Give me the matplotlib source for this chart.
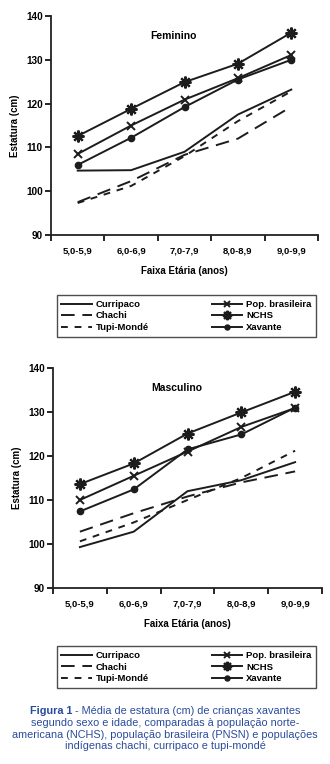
import matplotlib
matplotlib.use("Agg")
import matplotlib.pyplot as plt
import numpy as np
from matplotlib.lines import Line2D
from matplotlib.text import Annotation

plt.rcParams['font.family'] = ['Liberation Sans', 'DejaVu Sans']

categories = ["5,0-5,9", "6,0-6,9", "7,0-7,9", "8,0-8,9", "9,0-9,9"]
series_names = ["Curripaco", "Chachi", "Tupi-Mondé", "Pop. brasileira", "NCHS", "Xavante"]

fem_curripaco = [104.7, 104.8, 109.0, 117.5, 123.2]
fem_chachi = [97.5, 102.3, 108.3, 112.0, 119.3]
fem_tupi = [97.3, 101.2, 108.0, 116.0, 122.8]
fem_pop = [108.5, 115.0, 120.9, 125.8, 131.1]
fem_nchs = [112.6, 118.8, 124.9, 129.1, 136.2]
fem_xavante = [106.0, 112.2, 119.2, 125.5, 130.0]

mas_curripaco = [99.3, 102.8, 112.0, 114.5, 118.6]
mas_chachi = [102.8, 107.0, 110.8, 114.0, 116.5]
mas_tupi = [100.6, 104.9, 110.0, 115.0, 121.2]
mas_pop = [110.0, 115.5, 121.0, 126.6, 130.9]
mas_nchs = [113.6, 118.3, 125.1, 129.9, 134.6]
mas_xavante = [107.4, 112.4, 121.5, 124.9, 131.0]

yticks = [90, 100, 110, 120, 130, 140]

LC = "#1c1c1c"
styles = {
    "Curripaco": dict(ls="-", marker=None),
    "Chachi": dict(ls=(0, (7, 4)), marker=None),
    "Tupi-Mondé": dict(ls=(0, (3.5, 3.5)), marker=None),
    "Pop. brasileira": dict(ls="-", marker="x", ms=6, mew=1.4),
    "NCHS": dict(ls="-", marker=(8, 2, 0), ms=8.5, mew=1.6),
    "Xavante": dict(ls="-", marker="o", ms=4.5, mew=1),
}

fig = plt.figure(figsize=(3.30, 7.64), dpi=100)
fig.patch.set_facecolor("white")

def panel(rect, data, title, legend_rect):
    ax = fig.add_axes(rect)
    x = np.arange(len(categories))
    for name, vals in zip(series_names, data):
        st = styles[name]
        ax.plot(x, vals, color=LC, lw=1.4, linestyle=st["ls"], marker=st["marker"],
                ms=st.get("ms", 0), mew=st.get("mew", 1), mfc=LC, mec=LC)
    ax.set_xlim(-0.5, len(categories) - 0.5)
    ax.set_ylim(90, 140)
    ax.set_yticks(yticks)
    ax.set_yticklabels([str(v) for v in yticks], fontsize=7.2, fontweight="bold")
    ax.set_xticks(np.arange(len(categories) + 1) - 0.5)
    ax.set_xticklabels([])
    ax.set_xticks(x, minor=True)
    ax.set_xticklabels(categories, minor=True, fontsize=6.8, fontweight="bold")
    ax.tick_params(axis="x", which="minor", length=0, pad=8)
    ax.tick_params(axis="x", which="major", length=4, width=1.2, direction="out")
    ax.tick_params(axis="y", length=4, width=1.2, direction="out", pad=2)
    for s in ["top", "right"]:
        ax.spines[s].set_visible(False)
    for s in ["left", "bottom"]:
        ax.spines[s].set_linewidth(1.3)
        ax.spines[s].set_color("#222222")
    ax.set_ylabel("Estatura (cm)", fontsize=7, fontweight="bold", labelpad=4)
    ax.set_xlabel("Faixa Etária (anos)", fontsize=7, fontweight="bold", labelpad=8)
    ax.text(0.46, 0.91, title, transform=ax.transAxes, fontsize=7.5, fontweight="bold",
            ha="center", va="center")
    handles = []
    for name in series_names:
        st = styles[name]
        handles.append(Line2D([], [], color=LC, lw=1.4, linestyle=st["ls"], marker=st["marker"],
                              ms=st.get("ms", 0) * 0.8, mew=st.get("mew", 1), mfc=LC, mec=LC))
    leg = fig.legend(handles, series_names, loc="center", bbox_to_anchor=legend_rect,
                     mode="expand", ncol=2, frameon=True, fancybox=False,
                     edgecolor="#222222", handlelength=3.2, handletextpad=0.4,
                     labelspacing=0.25, borderpad=0.5, columnspacing=1.0,
                     prop=dict(weight="bold", size=6.8))
    leg.get_frame().set_linewidth(1.0)
    return ax

panel([51/330, 1 - 235/764, 267/330, 219/764],
      [fem_curripaco, fem_chachi, fem_tupi, fem_pop, fem_nchs, fem_xavante],
      "Feminino", (52/330, 1 - 342/764, 269/330, 52/764))
panel([53/330, 1 - 588/764, 269/330, 220/764],
      [mas_curripaco, mas_chachi, mas_tupi, mas_pop, mas_nchs, mas_xavante],
      "Masculino", (52/330, 1 - 691/764, 269/330, 48/764))

CC = "#2a4b9b"
FS = 7.8
cap_lines = ["segundo sexo e idade, comparadas à população norte-",
             "americana (NCHS), população brasileira (PNSN) e populações",
             "indígenas chachi, curripaco e tupi-mondé"]
t1 = fig.text(30/330, 1 - 714/764, "Figura 1", fontsize=FS, fontweight="bold", color=CC,
              ha="left", va="baseline")
fig.add_artist(Annotation(" - Média de estatura (cm) de crianças xavantes",
               xy=(1, 0), xycoords=t1, fontsize=FS, color=CC, ha="left", va="bottom"))
for i, line in enumerate(cap_lines):
    fig.text(0.5, 1 - (726 + 11.7 * i)/764, line, fontsize=FS, color=CC, ha="center",
             va="baseline")

fig.savefig("out.png", dpi=100, facecolor="white")
